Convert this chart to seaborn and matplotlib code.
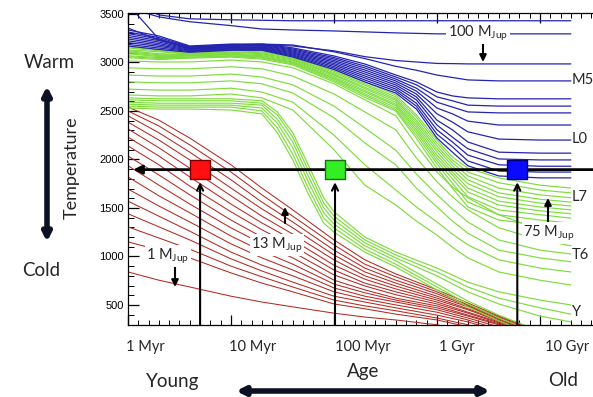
import numpy as np
import pandas as pd
import matplotlib
matplotlib.use("Agg")
import matplotlib.pyplot as plt
import seaborn as sns

# ---------------- data (log10 age [yr], Teff [K]) ----------------
log_age = [6.0, 6.3, 6.6, 7.0, 7.3, 7.6, 8.0, 8.3, 8.6, 9.0, 9.3, 9.6, 10.0, 10.3]
log_age_planet = [6.0, 6.3, 6.6, 7.0, 7.3, 7.6, 8.0, 8.3, 8.6, 9.0, 9.3, 9.6, 10.0]
log_age_fine = [6.0, 6.3, 6.6, 7.0, 7.3, 7.6, 8.0, 8.3, 8.6, 8.8, 9.0, 9.15, 9.3, 9.6, 10.0, 10.3]
log_age_dburn = [6.0, 6.3, 6.6, 7.0, 7.3, 7.45, 7.6, 7.75, 7.9, 8.0, 8.3, 8.6, 9.0, 9.3, 9.6, 10.0, 10.3]

# planetary-mass tracks (1 - 13 M_Jup), top = 13 M_Jup, bottom = 1 M_Jup
planet_tracks = [
    [2540, 2405, 2220, 1945, 1705, 1480, 1170, 965, 820, 655, 520, 385, 220],
    [2500, 2345, 2150, 1870, 1635, 1415, 1120, 920, 790, 635, 500, 375, 210],
    [2450, 2275, 2075, 1790, 1560, 1355, 1065, 880, 755, 615, 490, 365, 200],
    [2385, 2200, 1995, 1705, 1490, 1295, 1015, 840, 725, 590, 480, 355, 190],
    [2315, 2120, 1910, 1625, 1415, 1230, 965, 800, 695, 570, 460, 345, 180],
    [2230, 2035, 1820, 1540, 1345, 1170, 910, 765, 665, 550, 450, 335, 170],
    [2140, 1945, 1725, 1460, 1275, 1110, 860, 725, 635, 530, 425, 325, 160],
    [2035, 1840, 1635, 1375, 1200, 1045, 810, 695, 605, 510, 415, 315, 150],
    [1935, 1735, 1540, 1295, 1130, 985, 755, 655, 570, 490, 395, 305, 140],
    [1820, 1625, 1450, 1210, 1055, 920, 715, 625, 550, 470, 385, 295, 130],
    [1695, 1520, 1355, 1130, 985, 860, 675, 590, 530, 450, 365, 275, 120],
    [1570, 1415, 1260, 1045, 910, 800, 635, 560, 500, 425, 345, 250, 110],
    [1440, 1305, 1170, 975, 850, 735, 590, 530, 470, 395, 325, 230, 95],
    [1305, 1190, 1075, 900, 790, 685, 550, 490, 440, 365, 295, 210, 85],
    [1150, 1065, 985, 830, 725, 635, 510, 460, 405, 345, 275, 180, 75],
    [840, 755, 685, 590, 530, 480, 415, 375, 345, 295, 230, 160, 55],
]

# brown dwarfs: high-mass bundle (end near L7) -- log_age_fine
bd_high = [
    [3160, 3130, 3100, 3130, 3120, 3065, 2920, 2800, 2665, 2460, 2200, 2025, 1910, 1810, 1735, 1705],
    [3150, 3120, 3090, 3120, 3110, 3055, 2910, 2780, 2645, 2435, 2170, 1995, 1870, 1760, 1685, 1655],
    [3130, 3110, 3085, 3110, 3100, 3045, 2895, 2765, 2625, 2405, 2140, 1965, 1830, 1705, 1635, 1605],
    [3120, 3090, 3080, 3105, 3090, 3035, 2880, 2745, 2610, 2380, 2110, 1935, 1790, 1655, 1590, 1560],
    [3110, 3080, 3075, 3095, 3080, 3025, 2870, 2730, 2590, 2355, 2080, 1900, 1750, 1615, 1550, 1520],
    [3100, 3070, 3070, 3085, 3070, 3015, 2855, 2710, 2570, 2330, 2045, 1870, 1705, 1570, 1510, 1480],
    [3090, 3060, 3065, 3080, 3060, 3005, 2840, 2695, 2555, 2305, 2015, 1840, 1665, 1530, 1470, 1440],
    [3070, 3050, 3055, 3070, 3055, 2995, 2830, 2675, 2535, 2280, 1985, 1800, 1615, 1480, 1430, 1395],
    [3060, 3040, 3050, 3065, 3045, 2985, 2815, 2660, 2515, 2250, 1955, 1755, 1560, 1430, 1375, 1345],
    [3050, 3030, 3045, 3055, 3035, 2975, 2800, 2640, 2500, 2220, 1910, 1705, 1510, 1375, 1325, 1295],
]
# brown dwarfs: intermediate masses (end near T6) -- log_age_fine
bd_mid = [
    [3015, 3005, 3005, 3025, 3005, 2945, 2780, 2615, 2450, 2150, 1870, 1715, 1605, 1430, 1275, 1190],
    [2945, 2935, 2935, 2955, 2935, 2860, 2675, 2490, 2305, 2015, 1770, 1615, 1480, 1295, 1170, 1110],
    [2870, 2860, 2860, 2880, 2850, 2770, 2550, 2325, 2095, 1850, 1635, 1490, 1355, 1170, 1065, 1025],
    [2800, 2790, 2790, 2810, 2780, 2685, 2430, 2170, 1945, 1705, 1510, 1365, 1240, 1065, 985, 945],
    [2725, 2715, 2715, 2735, 2695, 2590, 2250, 1945, 1685, 1510, 1355, 1230, 1120, 965, 880, 840],
    [2665, 2655, 2655, 2675, 2635, 2510, 2100, 1735, 1530, 1365, 1220, 1095, 985, 840, 755, 705],
]
# brown dwarfs: low masses with deuterium-burning plateau -- log_age_dburn
bd_low = [
    [2635, 2625, 2625, 2625, 2605, 2490, 2275, 1945, 1605, 1460, 1200, 1045, 880, 735, 635, 550, 500],
    [2615, 2605, 2605, 2605, 2580, 2460, 2230, 1890, 1550, 1415, 1170, 1015, 840, 685, 570, 470, 405],
    [2590, 2580, 2580, 2580, 2560, 2415, 2180, 1830, 1500, 1375, 1140, 985, 800, 635, 510, 385, 325],
    [2570, 2560, 2560, 2560, 2530, 2375, 2120, 1770, 1450, 1335, 1110, 955, 715, 540, 395, 230, 140],
    [2550, 2540, 2540, 2540, 2500, 2325, 2055, 1705, 1395, 1295, 1075, 920, 685, 510, 365, 200, 110],
    [2530, 2520, 2520, 2510, 2470, 2275, 1995, 1645, 1345, 1250, 1045, 890, 655, 480, 335, 170, 80],
]

# stars (>= 75 M_Jup) -- log_age_fine
star_top = [
    [3650, 3490, 3450, 3440, 3435, 3430, 3430, 3430, 3430, 3430, 3430, 3430, 3430, 3430, 3430, 3430],
    [3560, 3470, 3420, 3380, 3345, 3335, 3325, 3315, 3305, 3300, 3295, 3295, 3295, 3295, 3295, 3295],
    [3600, 3240, 3140, 3170, 3180, 3170, 3120, 3060, 3020, 3005, 2990, 2988, 2985, 2985, 2985, 2985],
    [3355, 3230, 3160, 3180, 3190, 3180, 3110, 3040, 2960, 2920, 2870, 2845, 2820, 2810, 2810, 2810],
]
star_band = [
    [3335, 3273, 3170, 3190, 3190, 3150, 3067, 2984, 2871, 2800, 2695, 2655, 2635, 2625, 2625, 2625],
    [3314, 3257, 3163, 3183, 3183, 3139, 3051, 2963, 2850, 2770, 2645, 2605, 2560, 2550, 2550, 2550],
    [3298, 3242, 3155, 3176, 3176, 3129, 3036, 2943, 2829, 2735, 2590, 2540, 2490, 2480, 2480, 2480],
    [3279, 3226, 3148, 3169, 3169, 3118, 3020, 2922, 2809, 2705, 2530, 2470, 2395, 2355, 2355, 2355],
    [3260, 3211, 3141, 3161, 3161, 3108, 3005, 2902, 2788, 2675, 2470, 2385, 2285, 2210, 2200, 2200],
    [3242, 3195, 3134, 3154, 3154, 3098, 2989, 2881, 2768, 2645, 2405, 2305, 2180, 2075, 2065, 2065],
    [3223, 3180, 3126, 3147, 3147, 3087, 2974, 2860, 2747, 2615, 2355, 2230, 2110, 2005, 1995, 1995],
    [3205, 3165, 3119, 3140, 3140, 3077, 2958, 2840, 2726, 2580, 2305, 2180, 2045, 1945, 1930, 1930],
    [3186, 3149, 3112, 3133, 3133, 3067, 2943, 2819, 2706, 2550, 2260, 2130, 1985, 1880, 1870, 1870],
    [3170, 3134, 3105, 3126, 3126, 3056, 2928, 2799, 2685, 2520, 2220, 2075, 1935, 1830, 1810, 1810],
]

# highlighted objects at equal temperature
highlight_log_age = [6.70, 8.01, 9.78]
highlight_teff = 1895
highlight_colors = ["#ff1010", "#33ee22", "#0a0aff"]
highlight_edges = ["#7a0000", "#1d6b12", "#000070"]

x_tick_pos = [6, 7, 8, 9, 10]
x_tick_labels = ["1 Myr", "10 Myr", "100 Myr", "1 Gyr", "10 Gyr"]
y_ticks = [500, 1000, 1500, 2000, 2500, 3000, 3500]
spectral_labels = ["M5", "L0", "L7", "T6", "Y"]
spectral_teff = [2820, 2210, 1610, 1015, 430]

# ---------------- build long table ----------------
rows = []
for group, tracks, grid in [("planet", planet_tracks, log_age_planet),
                            ("bd", bd_high + bd_mid, log_age_fine),
                            ("bdlow", bd_low, log_age_dburn),
                            ("star", star_top + star_band, log_age_fine)]:
    for k, temps in enumerate(tracks):
        for a, t in zip(grid, temps):
            rows.append((group, f"{group}{k}", a, t))
df = pd.DataFrame(rows, columns=["group", "track", "log_age", "teff"])

# ---------------- figure ----------------
sns.set_theme(style="white")
plt.rcParams["font.family"] = ["Lato", "DejaVu Sans"]
plt.rcParams["mathtext.fontset"] = "custom"
plt.rcParams["mathtext.rm"] = "Lato"
plt.rcParams["mathtext.it"] = "Lato:italic"

W, H = 593, 397
fig = plt.figure(figsize=(W / 100, H / 100), dpi=100)
fig.patch.set_facecolor("white")
ax = fig.add_axes([128 / W, 72 / H, 465 / W, 312 / H])
ax.set_facecolor("white")

styles = {"planet": ("#b32a22", 0.75), "bd": ("#7fdc3e", 0.85),
          "bdlow": ("#7fdc3e", 0.85), "star": ("#2424b0", 0.9)}
for group in ["planet", "bdlow", "bd", "star"]:
    color, lw = styles[group]
    sns.lineplot(data=df[df.group == group], x="log_age", y="teff", units="track",
                 estimator=None, sort=False, color=color, lw=lw, ax=ax, legend=False)

xmin, xmax = 6.0, 10.515
ymin, ymax = 293, 3510
ax.set_xlim(xmin, xmax)
ax.set_ylim(ymin, ymax)
ax.set_xlabel("")
ax.set_ylabel("")

# ticks
ax.set_xticks(x_tick_pos)
ax.set_xticks(np.arange(6.0, 10.51, 0.1), minor=True)
ax.set_xticklabels([])
ax.set_yticks(y_ticks)
ax.set_yticks(np.arange(400, 3501, 100), minor=True)
ax.tick_params(axis="x", which="both", direction="in", top=True, bottom=True, colors="black")
ax.tick_params(axis="x", which="major", length=7, width=0.9)
ax.tick_params(axis="x", which="minor", length=3.5, width=0.7)
ax.tick_params(axis="y", which="both", direction="in", left=True, right=False, colors="black")
ax.tick_params(axis="y", which="major", length=8, width=0.9, pad=3)
ax.tick_params(axis="y", which="minor", length=4, width=0.7)
for lab in ax.get_yticklabels():
    lab.set_fontfamily(["Liberation Sans", "DejaVu Sans"])
    lab.set_fontsize(8)
for s in ["left", "bottom", "top"]:
    ax.spines[s].set_visible(True)
    ax.spines[s].set_color("black")
    ax.spines[s].set_linewidth(0.9)
ax.spines["right"].set_visible(False)

# x tick labels placed below, slightly to the right of ticks (as in the original)
label_shift_px = [17, 22, 29, 20, 27]
for pos, lab, dx in zip(x_tick_pos, x_tick_labels, label_shift_px):
    xpix = 128 + (pos - xmin) / (xmax - xmin) * 465 + dx
    fig.text(xpix / W, 1 - 347 / H, lab, ha="center", va="center", fontsize=10.5)

# horizontal equal-temperature line with arrow to the left
ax.annotate("", xy=(6.05, highlight_teff), xytext=(xmax, highlight_teff),
            arrowprops=dict(arrowstyle="-|>", color="black", lw=2.0,
                            mutation_scale=13, shrinkA=0, shrinkB=0), zorder=5)

# vertical arrows from the age axis to each object
for a in highlight_log_age:
    ax.annotate("", xy=(a, 1765), xytext=(a, ymin),
                arrowprops=dict(arrowstyle="->", color="black", lw=1.5,
                                mutation_scale=11, shrinkA=0, shrinkB=0), zorder=5)

ax.scatter(highlight_log_age, [highlight_teff] * 3, marker="s", s=200,
           c=highlight_colors, edgecolors=highlight_edges, linewidths=1.0, zorder=6)

# spectral type labels at the right
for lab, t in zip(spectral_labels, spectral_teff):
    ax.text(10.31, t, lab, ha="left", va="center", fontsize=10.5, zorder=7)


def px(x, y):
    return (x / W, 1 - y / H)


def arrow_px(x0, y0, x1, y1, lw=1.5, style="-|>", ms=10, color="black"):
    fig.add_artist(matplotlib.patches.FancyArrowPatch(
        px(x0, y0), px(x1, y1), transform=fig.transFigure, arrowstyle=style,
        mutation_scale=ms, lw=lw, color=color, shrinkA=0, shrinkB=0))


mjup = r"M$_{\mathrm{Jup}}$"
bbox = dict(facecolor="white", edgecolor="none", pad=1.0)
fig.text(*px(478, 33), "100 " + mjup, ha="center", va="center", fontsize=10.5, bbox=bbox)
arrow_px(483, 42, 483, 62)
fig.text(*px(549, 233), "75 " + mjup, ha="center", va="center", fontsize=10.5, bbox=bbox)
arrow_px(548, 222, 548, 198)
fig.text(*px(277, 245), "13 " + mjup, ha="center", va="center", fontsize=10.5, bbox=bbox)
arrow_px(285, 223, 285, 207)
fig.text(*px(168, 256), "1 " + mjup, ha="center", va="center", fontsize=10.5, bbox=bbox)
arrow_px(175, 263, 175, 287)

# temperature / age axis descriptions
fig.text(*px(49, 62), "Warm", ha="center", va="center", fontsize=13.5)
fig.text(*px(41, 270), "Cold", ha="center", va="center", fontsize=13.5)
fig.text(*px(72, 168), "Temperature", ha="center", va="center", fontsize=13, rotation=90)
arrow_px(47, 86, 47, 242, lw=4, style="<|-|>", ms=12, color="#0c1124")

fig.text(*px(173, 382), "Young", ha="center", va="center", fontsize=13.5)
fig.text(*px(363, 372), "Age", ha="center", va="center", fontsize=13.5)
fig.text(*px(563, 381), "Old", ha="center", va="center", fontsize=13.5)
arrow_px(236, 391, 490, 391, lw=4, style="<|-|>", ms=12, color="#0c1124")

fig.savefig("out.png", dpi=100)
